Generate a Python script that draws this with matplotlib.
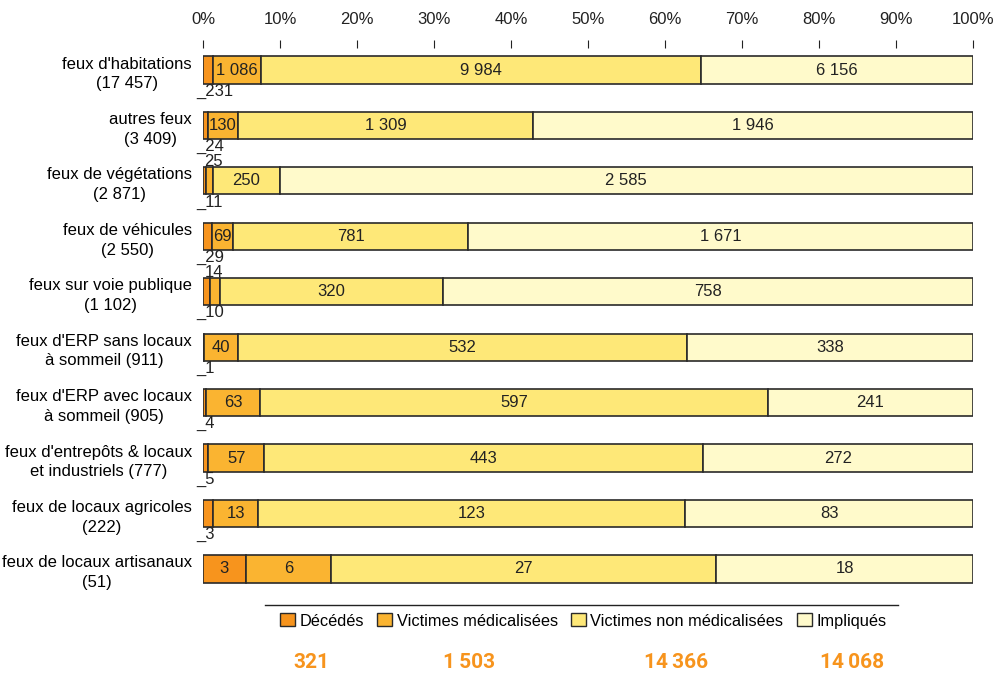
import matplotlib.pyplot as plt
from matplotlib.lines import Line2D
from matplotlib.patches import Patch
import numpy as np

plt.rcParams['font.family'] = ['Liberation Sans', 'DejaVu Sans']

categories = [
    "feux d'habitations\n(17 457)",
    "autres feux\n(3 409)",
    "feux de végétations\n(2 871)",
    "feux de véhicules\n(2 550)",
    "feux sur voie publique\n(1 102)",
    "feux d'ERP sans locaux\nà sommeil (911)",
    "feux d'ERP avec locaux\nà sommeil (905)",
    "feux d'entrepôts & locaux\net industriels (777)",
    "feux de locaux agricoles\n(222)",
    "feux de locaux artisanaux\n(51)",
]
decedes = [231, 24, 11, 29, 10, 1, 4, 5, 3, 3]
medicalisees = [1086, 130, 25, 69, 14, 40, 63, 57, 13, 6]
non_medicalisees = [9984, 1309, 250, 781, 320, 532, 597, 443, 123, 27]
impliques = [6156, 1946, 2585, 1671, 758, 338, 241, 272, 83, 18]

series = [decedes, medicalisees, non_medicalisees, impliques]
names = ['Décédés', 'Victimes médicalisées', 'Victimes non médicalisées', 'Impliqués']
colors = ['#F7941D', '#FAB431', '#FEE878', '#FFFACB']


def fmt(v, sep=' '):
    return f'{v:,}'.replace(',', sep)


fig = plt.figure(figsize=(9.99, 6.81), dpi=100)
ax = fig.add_axes([203 / 999, 1 - 595 / 681, 770 / 999, (595 - 48) / 681])

data = np.array(series, dtype=float)
totals = data.sum(axis=0)
pct = data / totals * 100
y = np.arange(len(categories))

fs = 12
left = np.zeros(len(categories))
for k in range(4):
    ax.barh(y, pct[k], left=left, height=0.49, color=colors[k],
            edgecolor='#2a2a2a', linewidth=1.2)
    for i in range(len(categories)):
        w = pct[k][i]
        v = series[k][i]
        if w >= 2:
            ax.text(left[i] + w / 2, y[i], fmt(v), ha='center', va='center',
                    fontsize=fs, color='#222222')
        elif k == 0:
            ax.annotate('_' + fmt(v), (0, y[i] + 0.245), xytext=(-5, 0),
                        textcoords='offset points', ha='left', va='top',
                        fontsize=fs, color='#222222')
        else:
            ax.annotate(fmt(v), (0, y[i] - 0.245), xytext=(1, -1),
                        textcoords='offset points', ha='left', va='bottom',
                        fontsize=fs, color='#222222')
    left += pct[k]

ax.set_xlim(0, 100)
ax.set_ylim(9.47, -0.397)
ax.xaxis.tick_top()
ax.set_xticks(np.arange(0, 101, 10))
ax.set_xticklabels([f'{t}%' for t in range(0, 101, 10)], fontsize=fs)
ax.tick_params(axis='x', length=6, width=0.8, pad=9, colors='#222222')
ax.set_yticks(y)
ax.set_yticklabels(categories, fontsize=fs, multialignment='center', linespacing=1.4)
ax.tick_params(axis='y', length=0, pad=8)
for s in ax.spines.values():
    s.set_visible(False)

# legend with line above
fig.add_artist(Line2D([265 / 999, 898 / 999], [1 - 605 / 681, 1 - 605 / 681],
                      color='#222222', linewidth=1))
handles = [Patch(facecolor=c, edgecolor='#2a2a2a', linewidth=1) for c in colors]
fig.legend(handles, names, loc='center', bbox_to_anchor=(583 / 999, 1 - 621 / 681),
           ncol=4, frameon=False, fontsize=11.8, handlelength=0.95, handleheight=0.85,
           handletextpad=0.25, columnspacing=0.8)

# totals per series
tot_x = [311, 469, 676, 852]
for k in range(4):
    fig.text(tot_x[k] / 999, 1 - 662 / 681, fmt(int(sum(series[k])), '\u2009'),
             ha='center', va='center', fontsize=15, fontweight='bold',
             color='#F7941D', family=['Roboto', 'DejaVu Sans'])

fig.savefig('out.png', dpi=100)
